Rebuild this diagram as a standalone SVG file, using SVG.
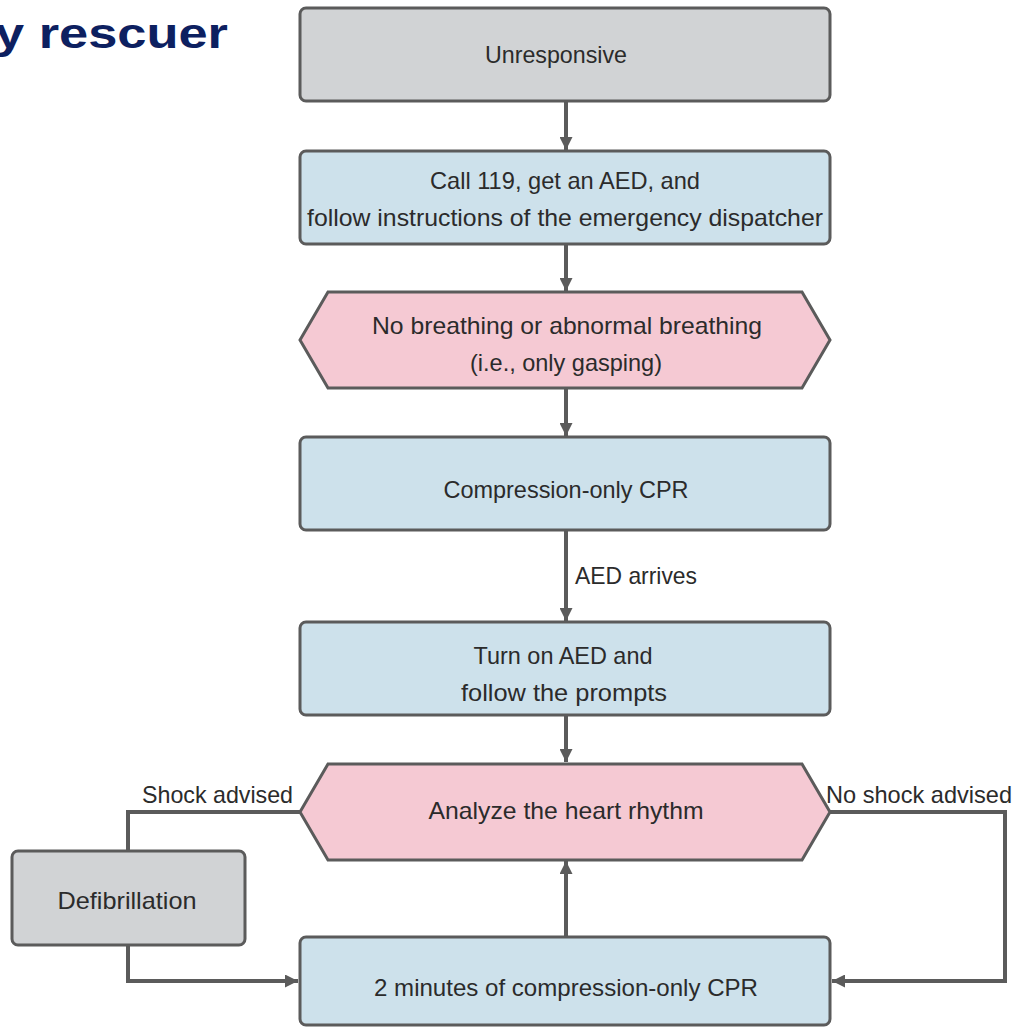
<svg xmlns="http://www.w3.org/2000/svg" width="1015" height="1027" viewBox="0 0 1015 1027">
<defs>
<style>
.box{stroke:#5b5b5b;stroke-width:3}
.gray{fill:#d1d3d5}
.blue{fill:#cde1eb}
.pink{fill:#f5c9d3}
.t{font-family:"Liberation Sans",Arial,sans-serif;font-size:24px;fill:#2b2b2b}
.c{text-anchor:middle}
.ln{fill:none;stroke:#5b5b5b;stroke-width:4}
.title{font-family:"Liberation Sans",Arial,sans-serif;font-size:43px;font-weight:bold;fill:#0d2060}
</style>
<marker id="arr" viewBox="0 0 12 12" refX="12" refY="6" markerWidth="13" markerHeight="13" markerUnits="userSpaceOnUse" orient="auto">
<path d="M0,0 L12,6 L0,12 Z" fill="#5b5b5b"/>
</marker>
</defs>
<rect width="1015" height="1027" fill="#ffffff"/>
<text class="title" x="-5" y="48" textLength="233" lengthAdjust="spacingAndGlyphs">y rescuer</text>

<g id="connectors">
<line class="ln" x1="566" y1="101" x2="566" y2="150" marker-end="url(#arr)"/>
<line class="ln" x1="566" y1="244" x2="566" y2="291" marker-end="url(#arr)"/>
<line class="ln" x1="566" y1="388" x2="566" y2="436" marker-end="url(#arr)"/>
<line class="ln" x1="566" y1="530" x2="566" y2="621" marker-end="url(#arr)"/>
<line class="ln" x1="566" y1="715" x2="566" y2="762" marker-end="url(#arr)"/>
<line class="ln" x1="566" y1="936" x2="566" y2="861" marker-end="url(#arr)"/>
<polyline class="ln" points="300,812 128,812 128,851"/>
<polyline class="ln" points="128,945 128,981 298,981" marker-end="url(#arr)"/>
<polyline class="ln" points="830,812 1005,812 1005,981 832,981" marker-end="url(#arr)"/>
<text class="t" x="575" y="584" textLength="122" lengthAdjust="spacingAndGlyphs">AED arrives</text>
<text class="t" x="142" y="803" textLength="151" lengthAdjust="spacingAndGlyphs">Shock advised</text>
<text class="t" x="826" y="803" textLength="186" lengthAdjust="spacingAndGlyphs">No shock advised</text>
</g>

<g id="n-unresponsive">
<rect class="box gray" x="300" y="8" width="530" height="93" rx="6"/>
<text class="t c" x="556" y="63" textLength="142" lengthAdjust="spacingAndGlyphs">Unresponsive</text>
</g>
<g id="n-call">
<rect class="box blue" x="300" y="151" width="530" height="93" rx="6"/>
<text class="t c" x="565" y="189" textLength="270" lengthAdjust="spacingAndGlyphs">Call 119, get an AED, and</text>
<text class="t c" x="565" y="226" textLength="516" lengthAdjust="spacingAndGlyphs">follow instructions of the emergency dispatcher</text>
</g>
<g id="n-breathing">
<polygon class="box pink" points="328,292 802,292 830,340 802,388 328,388 300,340"/>
<text class="t c" x="567" y="334" textLength="390" lengthAdjust="spacingAndGlyphs">No breathing or abnormal breathing</text>
<text class="t c" x="566" y="371" textLength="192" lengthAdjust="spacingAndGlyphs">(i.e., only gasping)</text>
</g>
<g id="n-cpr">
<rect class="box blue" x="300" y="437" width="530" height="93" rx="6"/>
<text class="t c" x="566" y="498" textLength="245" lengthAdjust="spacingAndGlyphs">Compression-only CPR</text>
</g>
<g id="n-aed">
<rect class="box blue" x="300" y="622" width="530" height="93" rx="6"/>
<text class="t c" x="563" y="664" textLength="179" lengthAdjust="spacingAndGlyphs">Turn on AED and</text>
<text class="t c" x="564" y="701" textLength="206" lengthAdjust="spacingAndGlyphs">follow the prompts</text>
</g>
<g id="n-analyze">
<polygon class="box pink" points="328,764 802,764 830,812 802,860 328,860 300,812"/>
<text class="t c" x="566" y="819" textLength="275" lengthAdjust="spacingAndGlyphs">Analyze the heart rhythm</text>
</g>
<g id="n-defib">
<rect class="box gray" x="12" y="851" width="233" height="94" rx="6"/>
<text class="t c" x="127" y="909" textLength="139" lengthAdjust="spacingAndGlyphs">Defibrillation</text>
</g>
<g id="n-two-min">
<rect class="box blue" x="300" y="937" width="530" height="88" rx="6"/>
<text class="t c" x="566" y="996" textLength="384" lengthAdjust="spacingAndGlyphs">2 minutes of compression-only CPR</text>
</g>
</svg>
